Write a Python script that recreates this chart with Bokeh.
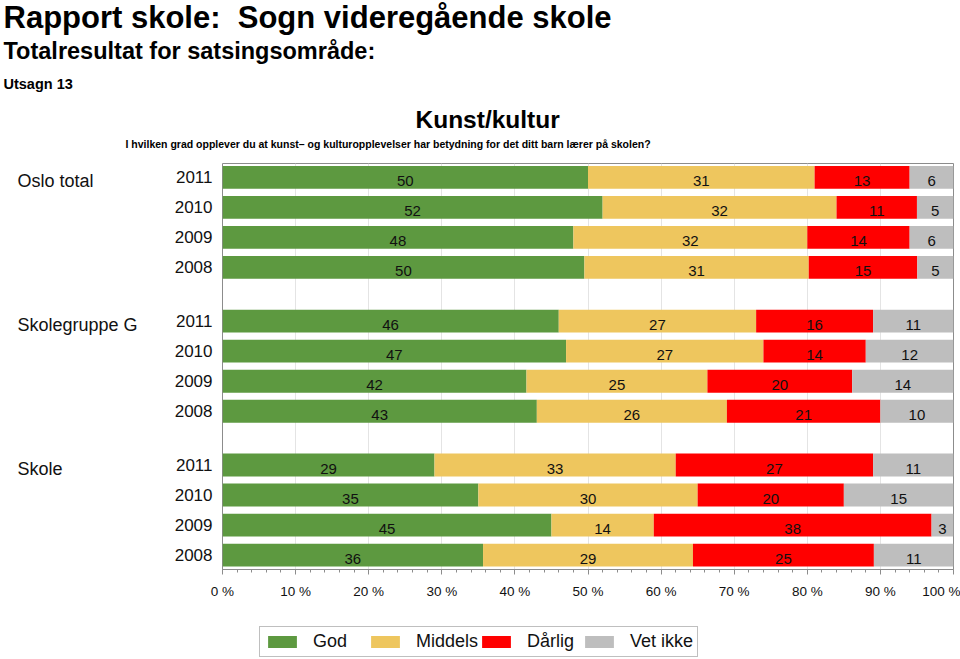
from bokeh.plotting import figure
from bokeh.layouts import column, row
from bokeh.models import (ColumnDataSource, Range1d, FixedTicker, Label, LabelSet,
                          Legend, LegendItem)
from bokeh.core.properties import value
from bokeh.embed import file_html
from bokeh.resources import INLINE

# ---------------- data ----------------
groups = ["Oslo total", "Skolegruppe G", "Skole"]
years = ["2011", "2010", "2009", "2008"]
categories = ["God", "Middels", "Dårlig", "Vet ikke"]

god      = [[50, 52, 48, 50], [46, 47, 42, 43], [29, 35, 45, 36]]
middels  = [[31, 32, 32, 31], [27, 27, 25, 26], [33, 30, 14, 29]]
darlig   = [[13, 11, 14, 15], [16, 14, 20, 21], [27, 20, 38, 25]]
vet_ikke = [[6, 5, 6, 5], [11, 12, 14, 10], [11, 15, 3, 11]]

x_ticks = [0, 10, 20, 30, 40, 50, 60, 70, 80, 90, 100]
x_tick_labels = ["0 %", "10 %", "20 %", "30 %", "40 %", "50 %",
                 "60 %", "70 %", "80 %", "90 %", "100 %"]

title_text = "Rapport skole:\u00a0 Sogn videregående skole"
subtitle_text = "Totalresultat for satsingsområde:"
statement_text = "Utsagn 13"
area_text = "Kunst/kultur"
question_text = ("I hvilken grad opplever du at kunst\u2013 og kulturopplevelser "
                 "har betydning for det ditt barn lærer på skolen?")

# ---------------- style / layout ----------------
colors = ["#5d9940", "#eec65e", "#ff0000", "#bebebe"]
FONT = "Liberation Sans"
TXT = "#111111"

PAGE_W, PAGE_H = 960, 659
HEADER_H, LEGEND_H = 155, 49
MAIN_H = PAGE_H - HEADER_H - LEGEND_H
LEFT_W = 160
MAIN_W = PAGE_W - LEFT_W
FRAME_LEFT, FRAME_RIGHT, FRAME_TOP, FRAME_BOTTOM = 222, 953, 163, 569  # page px
GROUP_STRIDE = 4.79
BAR_HEIGHT = 0.76

series = [god, middels, darlig, vet_ikke]
row_pos, row_year = [], []
for g in range(len(groups)):
    for i, yr in enumerate(years):
        row_pos.append(round(g * GROUP_STRIDE + i, 2))
        row_year.append(yr)
n_rows = len(row_pos)
flat = [[v for grp in s for v in grp] for s in series]
totals = [sum(flat[c][r] for c in range(len(series))) for r in range(n_rows)]

y_range = Range1d(row_pos[-1] + 0.48, row_pos[0] - 0.46)
border_top = FRAME_TOP - HEADER_H
border_bottom = HEADER_H + MAIN_H - FRAME_BOTTOM


def blank_fig(width, height, x_range, y_range, **kw):
    f = figure(width=width, height=height, x_range=x_range, y_range=y_range,
               output_backend="svg", toolbar_location=None,
               x_axis_type=None, y_axis_type=None, min_border=0, **kw)
    f.outline_line_color = None
    f.background_fill_color = "white"
    f.border_fill_color = "white"
    return f


# ---------------- header ----------------
header = blank_fig(PAGE_W, HEADER_H, Range1d(0, PAGE_W), Range1d(HEADER_H, 0))


def head_label(text, x, y_mid, size):
    return Label(x=x, y=y_mid, text=text, text_font=FONT, text_font_size=size,
                 text_font_style="bold", text_baseline="middle",
                 text_align="left", text_color="black")


header.add_layout(head_label(title_text, 3, 17, "31px"))
header.add_layout(head_label(subtitle_text, 3, 50, "23.5px"))
header.add_layout(head_label(statement_text, 3, 83.5, "14.5px"))
header.add_layout(head_label(area_text, 415, 118.5, "24.5px"))
header.add_layout(head_label(question_text, 125, 143.5, "10.5px"))

# ---------------- left (group names) ----------------
left = blank_fig(LEFT_W, MAIN_H, Range1d(0, LEFT_W), y_range)
left.min_border_top = border_top
left.min_border_bottom = border_bottom
first_rows = [row_pos[g * len(years)] for g in range(len(groups))]
left.add_layout(LabelSet(x="x", y="y", text="t",
                         source=ColumnDataSource(dict(x=[17] * len(groups), y=first_rows, t=groups)),
                         y_offset=-4, text_baseline="middle", text_align="left",
                         text_font=value(FONT), text_font_size="18px", text_color=TXT))

# ---------------- main chart ----------------
p = figure(width=MAIN_W, height=MAIN_H, output_backend="svg", toolbar_location=None,
           x_range=Range1d(0, 100), y_range=y_range,
           min_border_left=FRAME_LEFT - LEFT_W, min_border_right=PAGE_W - FRAME_RIGHT,
           min_border_top=border_top, min_border_bottom=border_bottom)
p.background_fill_color = "white"
p.border_fill_color = "white"
p.outline_line_color = "#8c8c8c"
p.outline_line_width = 1

cum = [0.0] * n_rows
lab_x, lab_y, lab_t = [], [], []
for c, name in enumerate(categories):
    lft = list(cum)
    rgt = [cum[r] + flat[c][r] * 100.0 / totals[r] for r in range(n_rows)]
    src = ColumnDataSource(dict(y=row_pos, left=lft, right=rgt))
    p.hbar(y="y", left="left", right="right", height=BAR_HEIGHT,
           fill_color=colors[c], line_color=None, source=src)
    for rr in range(n_rows):
        lab_x.append((lft[rr] + rgt[rr]) / 2)
        lab_y.append(row_pos[rr])
        lab_t.append(str(flat[c][rr]))
    cum = rgt

p.add_layout(LabelSet(x="x", y="y", text="t",
                      source=ColumnDataSource(dict(x=lab_x, y=lab_y, t=lab_t)),
                      text_align="center", text_baseline="middle", y_offset=-4,
                      text_font=value(FONT), text_font_size="15px", text_color=TXT))

p.xaxis.ticker = FixedTicker(ticks=x_ticks, minor_ticks=list(range(0, 101, 2)))
p.xaxis.major_label_overrides = dict(zip(x_ticks, x_tick_labels))
p.xaxis.axis_line_color = "#8c8c8c"
p.xaxis.major_tick_line_color = "#8c8c8c"
p.xaxis.minor_tick_line_color = "#8c8c8c"
p.xaxis.major_tick_in = 0
p.xaxis.major_tick_out = 5
p.xaxis.minor_tick_in = 0
p.xaxis.minor_tick_out = 3
p.xaxis.major_label_standoff = 9
p.xaxis.major_label_text_font = FONT
p.xaxis.major_label_text_font_size = "13.5px"
p.xaxis.major_label_text_color = TXT

p.xgrid.ticker = FixedTicker(ticks=x_ticks)
p.xgrid.grid_line_color = "#e4e4e4"
p.ygrid.grid_line_color = None

p.yaxis.ticker = FixedTicker(ticks=row_pos)
p.yaxis.major_label_overrides = dict(zip(row_pos, row_year))
p.yaxis.axis_line_color = None
p.yaxis.major_tick_line_color = None
p.yaxis.minor_tick_line_color = None
p.yaxis.major_tick_in = 0
p.yaxis.major_tick_out = 0
p.yaxis.major_label_standoff = 10
p.yaxis.major_label_text_font = FONT
p.yaxis.major_label_text_font_size = "17px"
p.yaxis.major_label_text_color = TXT

# ---------------- legend strip ----------------
# legend swatches come from placeholder bars that lie entirely outside this strip's ranges
lf = blank_fig(PAGE_W, LEGEND_H, Range1d(0, 1), Range1d(0, 1))
items = []
for c, name in enumerate(categories):
    r = lf.hbar(y=[-5], left=[-3], right=[-2], height=0.5,
                fill_color=colors[c], line_color=None)
    items.append(LegendItem(label=name, renderers=[r]))
legend = Legend(items=items, orientation="horizontal", location=(259, 2),
                glyph_width=36, glyph_height=15, label_standoff=13,
                label_width=54, label_height=18, spacing=0, padding=4, margin=0,
                border_line_color="#808080", border_line_width=1,
                background_fill_color="white", background_fill_alpha=1,
                label_text_font=FONT, label_text_font_size="18px",
                label_text_color=TXT)
lf.add_layout(legend)

layout = column(header, row(left, p), lf)
open("out.html", "w").write(file_html(layout, INLINE))
